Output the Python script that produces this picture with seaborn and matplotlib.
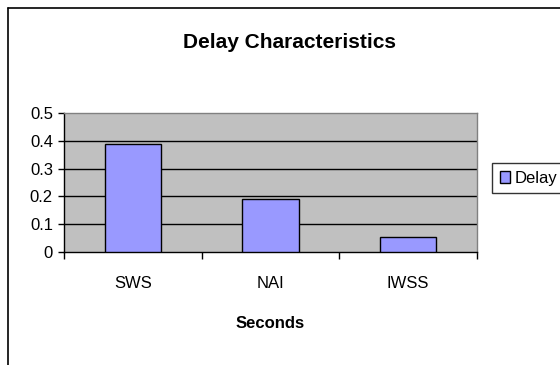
import matplotlib
matplotlib.use("Agg")
import matplotlib.pyplot as plt
from matplotlib.lines import Line2D
from matplotlib.patches import Patch
import seaborn as sns
import pandas as pd

categories = ["SWS", "NAI", "IWSS"]
delay = [0.387, 0.19, 0.053]
series_name = "Delay"
y_ticks = [0, 0.1, 0.2, 0.3, 0.4, 0.5]

df = pd.DataFrame({"method": categories, "delay": delay, "series": series_name})

sns.set_theme(style="white")
plt.rcParams["font.family"] = ["Liberation Sans", "DejaVu Sans"]
plt.rcParams["text.color"] = "black"
plt.rcParams["axes.labelcolor"] = "black"
plt.rcParams["xtick.color"] = "black"
plt.rcParams["ytick.color"] = "black"

fig = plt.figure(figsize=(5.6, 3.65), dpi=100)
ax = fig.add_axes([64 / 560, 1 - 252 / 365, 413 / 560, 139 / 365])

sns.barplot(data=df, x="method", y="delay", hue="series", palette=["#9999FF"],
            saturation=1, dodge=False, width=0.41, edgecolor="black", linewidth=1,
            ax=ax, legend=False, zorder=3)

ax.set_facecolor("#C0C0C0")
ax.set_xlim(-0.5, 2.5)
ax.set_ylim(0, 0.5)
ax.set_yticks(y_ticks)
ax.set_yticklabels(["0", "0.1", "0.2", "0.3", "0.4", "0.5"], fontsize=12)
ax.set_xticks([0, 1, 2])
ax.set_xticklabels(categories, fontsize=12)
ax.set_xticks([-0.5, 0.5, 1.5, 2.5], minor=True)
ax.tick_params(axis="x", which="major", length=0, pad=17, colors="black")
ax.tick_params(axis="x", which="minor", length=5, width=1, direction="out", color="black", bottom=True)
ax.tick_params(axis="y", length=4, width=1, direction="out", color="black", left=True, pad=4)

for v in y_ticks[1:-1]:
    ax.axhline(v, color="black", linewidth=1, zorder=1)

for s in ["top", "right"]:
    ax.spines[s].set_color("#808080")
    ax.spines[s].set_linewidth(1)
for s in ["left", "bottom"]:
    ax.spines[s].set_color("black")
    ax.spines[s].set_linewidth(1)

ax.set_xlabel("Seconds", fontsize=12, fontweight="bold", labelpad=18, color="black")
ax.set_ylabel("")
fig.text(289 / 560, 1 - 42 / 365, "Delay Characteristics", fontsize=15, fontweight="bold",
         ha="center", va="center", color="black")

handles = [Patch(facecolor="#9999FF", edgecolor="black", label=series_name)]
fig.legend(handles=handles, loc="upper left", bbox_to_anchor=(492 / 560, 1 - 163 / 365),
           fontsize=12, frameon=True, fancybox=False, edgecolor="black",
           handlelength=0.6, handleheight=0.7, handletextpad=0.3, borderpad=0.45,
           borderaxespad=0, labelcolor="black")

fig.add_artist(Line2D([8 / 560, 8 / 560], [0, 1 - 8 / 365], color="black", linewidth=1.2))
fig.add_artist(Line2D([8 / 560, 1], [1 - 8 / 365, 1 - 8 / 365], color="black", linewidth=1.2))

fig.savefig("out.png", dpi=100, facecolor="white")
